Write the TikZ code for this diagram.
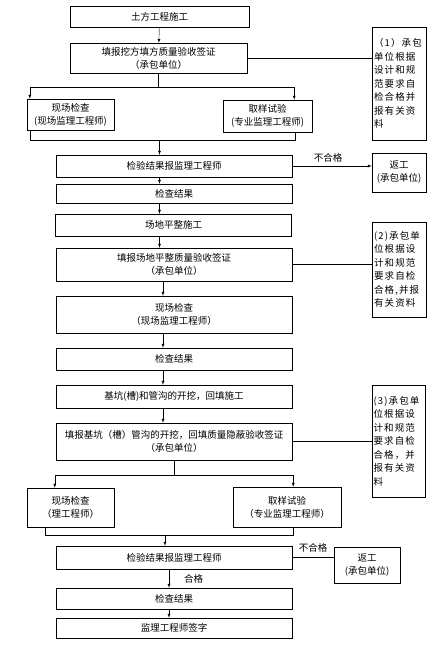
\documentclass[tikz,border=0pt]{standalone}
\usepackage{fontspec}
\setmainfont{Noto Sans CJK SC}
\newfontfamily\notefont[LetterSpace=12]{Noto Sans CJK SC}
\usetikzlibrary{arrows}
\usetikzlibrary{positioning}

\begin{document}
\begin{tikzpicture}[
      x=1pt, y=-1pt,
      box/.style ={rectangle, draw, thin, align=center, inner sep=1pt, font=\fontsize{9.5}{13}\selectfont},
      note/.style ={rectangle, draw, thin, align=left, inner sep=1pt, text width=50pt, font=\notefont\fontsize{9.5}{13.5}\selectfont},
      lbl/.style ={font=\fontsize{9.5}{11}\selectfont, inner sep=1pt},
      arr/.style ={-latex, thin}
    ]
    \useasboundingbox (0,0) rectangle (446,648);

    % upper part
    \node [box, minimum width=179pt, minimum height=21pt] (n1) at (159.5,16.5) {土方工程施工};
    \node [box, minimum width=177pt, minimum height=30pt] (n2) at (158.5,58) {填报挖方填方质量验收签证\\（承包单位）};
    \node [note, minimum width=54pt, minimum height=113pt] (note1) at (399,83.5) {（1）承包\\单位根据\\设计和规\\范要求自\\检合格并\\报有关资\\料};
    \node [box, minimum width=87pt, minimum height=31pt] (n3) at (70.5,114.5) {现场检查\\(现场监理工程师)};
    \node [box, minimum width=89pt, minimum height=32pt] (n4) at (267.5,116) {取样试验\\(专业监理工程师)};
    \node [box, minimum width=236pt, minimum height=22pt] (n5) at (174,166) {检验结果报监理工程师};
    \node [box, minimum width=54pt, minimum height=39pt] (rw1) at (399,172.5) {返工\\(承包单位)};
    \node [box, minimum width=236pt, minimum height=19pt] (n6) at (174,193.5) {检查结果};

    % middle part
    \node [box, minimum width=236pt, minimum height=22pt] (n7) at (173.5,225) {场地平整施工};
    \node [box, minimum width=236pt, minimum height=33pt] (n8) at (174,264.5) {填报场地平整质量验收签证\\（承包单位）};
    \node [note, minimum width=54pt, minimum height=95pt] (note2) at (399,269.5) {(2)承包单\\位根据设\\计和规范\\要求自检\\合格,并报\\有关资料};
    \node [box, minimum width=236pt, minimum height=37pt] (n9) at (174,314.5) {现场检查\\（现场监理工程师）};
    \node [box, minimum width=236pt, minimum height=22pt] (n10) at (174,359) {检查结果};

    % lower part
    \node [box, minimum width=236pt, minimum height=23pt] (n11) at (174,396.5) {基坑(槽)和管沟的开挖，回填施工};
    \node [box, minimum width=236pt, minimum height=37pt] (n12) at (174,441.5) {填报基坑（槽）管沟的开挖，回填质量隐蔽验收签证\\（承包单位）};
    \node [note, minimum width=53pt, minimum height=112pt] (note3) at (398.5,441) {(3)承包单\\位根据设\\计和规范\\要求自检\\合格，并\\报有关资\\料};
    \node [box, minimum width=87pt, minimum height=39pt] (n13) at (70.5,507.5) {现场检查\\（理工程师）};
    \node [box, minimum width=108pt, minimum height=40pt] (n14) at (287,507) {取样试验\\（专业监理工程师）};
    \node [box, minimum width=236pt, minimum height=23pt] (n15) at (174,557.5) {检验结果报监理工程师};
    \node [box, minimum width=66pt, minimum height=36pt] (rw2) at (367,565) {返工\\(承包单位)};
    \node [box, minimum width=236pt, minimum height=21pt] (n16) at (174,598.5) {检查结果};
    \node [box, minimum width=236pt, minimum height=20pt] (n17) at (174,628) {监理工程师签字};

    % connectors
    \draw [arr] (n1) -- (n2);
    \draw (n2.east) -- (n2.east -| note1.west);
    \draw (n2.south) -- ++(0,14) coordinate (j1);
    \draw [arr] (j1) -| ([xshift=3pt]n3.north west);
    \draw [arr] (j1) -| ([xshift=-18pt]n4.north east);
    \draw ([xshift=3pt]n3.south west) -- ++(0,10) coordinate (m1) -| ([xshift=-17pt]n4.south east);
    \draw [arr] (m1 -| n1) -- (n5.north -| n1);
    \draw [arr] (n5.east) -- (n5.east -| rw1.west) node [lbl, pos=0.45, above=3pt] {不合格};
    \draw [arr] (n5.south -| n1) -- (n6.north -| n1);
    \draw [arr] (n6.south -| n1) -- (n7.north -| n1);
    \draw [arr] (n7.south -| n1) -- (n8.north -| n1);
    \draw (n8.east) -- (n8.east -| note2.west);
    \draw [arr] ([xshift=-11pt]n8.south) -- ([xshift=-11pt]n9.north);
    \draw [arr] ([xshift=-11pt]n9.south) -- ([xshift=-11pt]n10.north);
    \draw [arr] ([xshift=-11pt]n10.south) -- ([xshift=-11pt]n11.north);
    \draw [arr] ([xshift=-11pt]n11.south) -- ([xshift=-11pt]n12.north);
    \draw (n12.east) -- (n12.east -| note3.west);
    \draw (n12.south) -- ++(0,15) coordinate (j2);
    \draw [arr] (j2) -| ([xshift=28pt]n13.north west);
    \draw [arr] (j2) -| ([xshift=-48pt]n14.north east);
    \draw ([xshift=18pt]n13.south west) -- ++(0,8) coordinate (m2) -| ([xshift=-48pt]n14.south east);
    \draw [arr] ([xshift=-9pt]m2 -| n15) -- ([xshift=-9pt]n15.north);
    \draw (n15.east) -- (n15.east -| rw2.west) node [lbl, midway, above=4pt] {不合格};
    \draw [arr] ([xshift=-5pt]n15.south) -- ([xshift=-5pt]n16.north) node [lbl, midway, right=14pt] {合格};
    \draw [arr] ([xshift=-5pt]n16.south) -- ([xshift=-5pt]n17.north);
  \end{tikzpicture}
\end{document}
